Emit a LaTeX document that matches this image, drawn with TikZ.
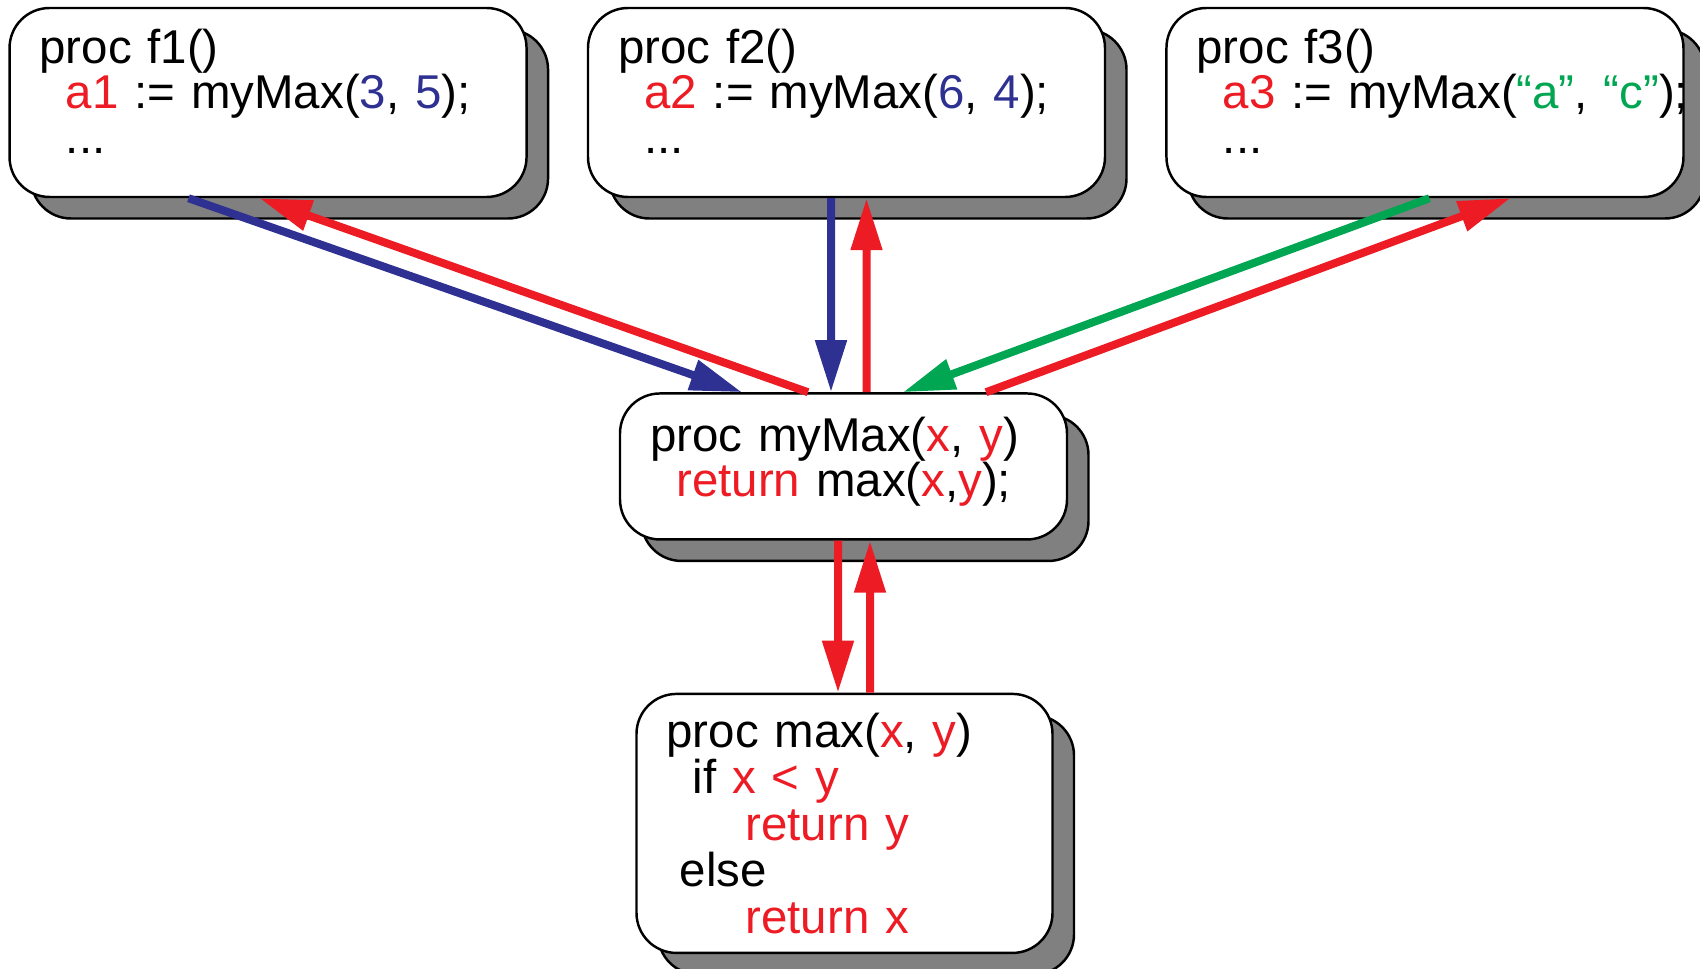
\documentclass[tikz,border=0pt]{standalone}
\usepackage{fontspec}
\setmainfont{Liberation Sans}
\usetikzlibrary{arrows.meta,positioning,shadows,calc}
\definecolor{callred}{RGB}{237,28,36}
\definecolor{argblue}{RGB}{46,49,146}
\definecolor{strgreen}{RGB}{0,166,81}
\definecolor{shade}{RGB}{128,128,128}

\newcommand{\codefont}[1]{\fontsize{27pt}{#1}\selectfont\lineskiplimit=-\maxdimen}
\newcommand{\pad}[1]{\hspace*{#1\fontdimen2\font}}
\newcommand{\lift}[1]{\rule[-#1]{0pt}{0pt}}
\newcommand{\rd}[1]{\textcolor{callred}{#1}}
\newcommand{\bl}[1]{\textcolor{argblue}{#1}}
\newcommand{\gr}[1]{\textcolor{strgreen}{#1}}

\begin{document}
\begin{tikzpicture}[
    procbox/.style={rectangle, draw=black, fill=white, line width=1.4pt, rounded corners=0.8cm,
        align=left, inner xsep=0.6cm, inner ysep=0pt,
        copy shadow={shadow xshift=0.43cm, shadow yshift=-0.43cm, fill=shade, draw=black, line width=1.4pt}},
    arrow/.style={line width=0.16cm, -{Triangle[length=1.04cm, width=0.6cm]}}
]
    \useasboundingbox (0,0) rectangle (34,-19.38);

    \node[procbox, text width=9.14cm, minimum height=3.78cm, font=\codefont{25.5pt}] (f2) at (16.93,-2.05)
        {proc f2()\\ \pad{2}\rd{a2} := myMax(\bl{6}, \bl{4});\\ \pad{2}...\lift{0.44cm}};
    \node[procbox, text width=9.14cm, minimum height=3.78cm, font=\codefont{25.5pt}, left=1.18cm of f2] (f1)
        {proc f1()\\ \pad{2}\rd{a1} := myMax(\bl{3}, \bl{5});\\ \pad{2}...\lift{0.44cm}};
    \node[procbox, text width=9.14cm, minimum height=3.78cm, font=\codefont{25.5pt}, right=1.18cm of f2] (f3)
        {proc f3()\\ \mbox{\pad{2}\rd{a3} := myMax(\gr{“a”}, \gr{“c”});}\\ \pad{2}...\lift{0.44cm}};
    \node[procbox, text width=7.74cm, minimum height=2.92cm, font=\codefont{25.6pt}, below=3.88cm of f2, xshift=-0.06cm] (mymax)
        {proc myMax(\rd{x}, \rd{y})\\ \pad{2}\rd{return} max(\rd{x},\rd{y});\lift{0.4cm}};
    \node[procbox, text width=7.12cm, minimum height=5.18cm, font=\codefont{26.5pt}, below=3.04cm of mymax, xshift=0.02cm] (max)
        {proc max(\rd{x}, \rd{y})\\ \pad{2}if \rd{x < y}\\ \pad{6}\rd{return y}\\ \pad{1}else\\ \pad{6}\rd{return x}};

    \draw[arrow, argblue] ([xshift=-1.59cm]f1.south) -- ([xshift=-2.03cm]mymax.north);
    \draw[arrow, callred] ([xshift=-0.71cm]mymax.north) -- ([xshift=-0.17cm]f1.south);
    \draw[arrow, argblue] ([xshift=-0.31cm]f2.south) -- ([xshift=-0.25cm]mymax.north);
    \draw[arrow, callred] ([xshift=0.46cm]mymax.north) -- ([xshift=0.40cm]f2.south);
    \draw[arrow, strgreen] ([xshift=0.09cm]f3.south) -- ([xshift=1.19cm]mymax.north);
    \draw[arrow, callred] ([xshift=2.85cm]mymax.north) -- ([xshift=1.71cm]f3.south);
    \draw[arrow, callred] ([xshift=-0.11cm]mymax.south) -- ([xshift=-0.13cm]max.north);
    \draw[arrow, callred] ([xshift=0.51cm]max.north) -- ([xshift=0.53cm]mymax.south);
\end{tikzpicture}
\end{document}
